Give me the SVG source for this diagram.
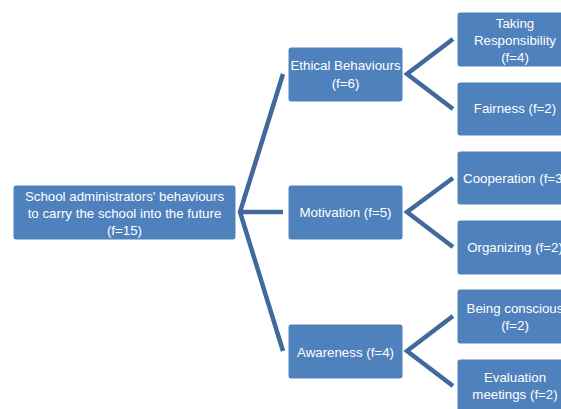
<svg xmlns="http://www.w3.org/2000/svg" width="561" height="409" viewBox="0 0 561 409">
<style>
.box{fill:#4f81bd;stroke:#ffffff;stroke-width:1}
.t{fill:#ffffff;font-family:"Liberation Sans",Arial,sans-serif;font-size:13.3px;text-anchor:middle}
.c{fill:none;stroke:#41699c;stroke-width:4.5;stroke-linejoin:miter}
</style>
<rect width="561" height="409" fill="#ffffff"/>
<g id="connectors">
<polyline class="c" points="283,74 240,212 283,351"/>
<line class="c" x1="240" y1="212" x2="283" y2="212"/>
<polyline class="c" points="453,39 407,74 453,109"/>
<polyline class="c" points="453,178 407,212 453,247"/>
<polyline class="c" points="453,316 407,351 453,386"/>
</g>
<g id="root">
<rect class="box" x="13" y="185" width="223" height="55" rx="3"/>
<text class="t" x="124.5" y="200.5">School administrators' behaviours</text>
<text class="t" x="124.5" y="217.5">to carry the school into the future</text>
<text class="t" x="124.5" y="234.5">(f=15)</text>
</g>
<g id="ethical">
<rect class="box" x="288" y="47" width="115" height="55" rx="3"/>
<text class="t" x="345.5" y="69.5">Ethical Behaviours</text>
<text class="t" x="345.5" y="87.5">(f=6)</text>
</g>
<g id="motivation">
<rect class="box" x="288" y="185" width="115" height="55" rx="3"/>
<text class="t" x="345.5" y="217">Motivation (f=5)</text>
</g>
<g id="awareness">
<rect class="box" x="288" y="324" width="115" height="55" rx="3"/>
<text class="t" x="345.5" y="356.5">Awareness (f=4)</text>
</g>
<g id="taking">
<rect class="box" x="457" y="12" width="116" height="55" rx="3"/>
<text class="t" x="515" y="27.5">Taking</text>
<text class="t" x="515" y="44.5">Responsibility</text>
<text class="t" x="515" y="61.5">(f=4)</text>
</g>
<g id="fairness">
<rect class="box" x="457" y="82" width="116" height="54" rx="3"/>
<text class="t" x="515" y="113">Fairness (f=2)</text>
</g>
<g id="cooperation">
<rect class="box" x="457" y="151" width="116" height="54" rx="3"/>
<text class="t" x="515" y="183">Cooperation (f=3)</text>
</g>
<g id="organizing">
<rect class="box" x="457" y="220" width="116" height="55" rx="3"/>
<text class="t" x="515" y="252">Organizing (f=2)</text>
</g>
<g id="conscious">
<rect class="box" x="457" y="289" width="116" height="55" rx="3"/>
<text class="t" x="515" y="313">Being conscious</text>
<text class="t" x="515" y="330">(f=2)</text>
</g>
<g id="evaluation">
<rect class="box" x="457" y="359" width="116" height="55" rx="3"/>
<text class="t" x="515" y="382">Evaluation</text>
<text class="t" x="515" y="399">meetings (f=2)</text>
</g>
</svg>
